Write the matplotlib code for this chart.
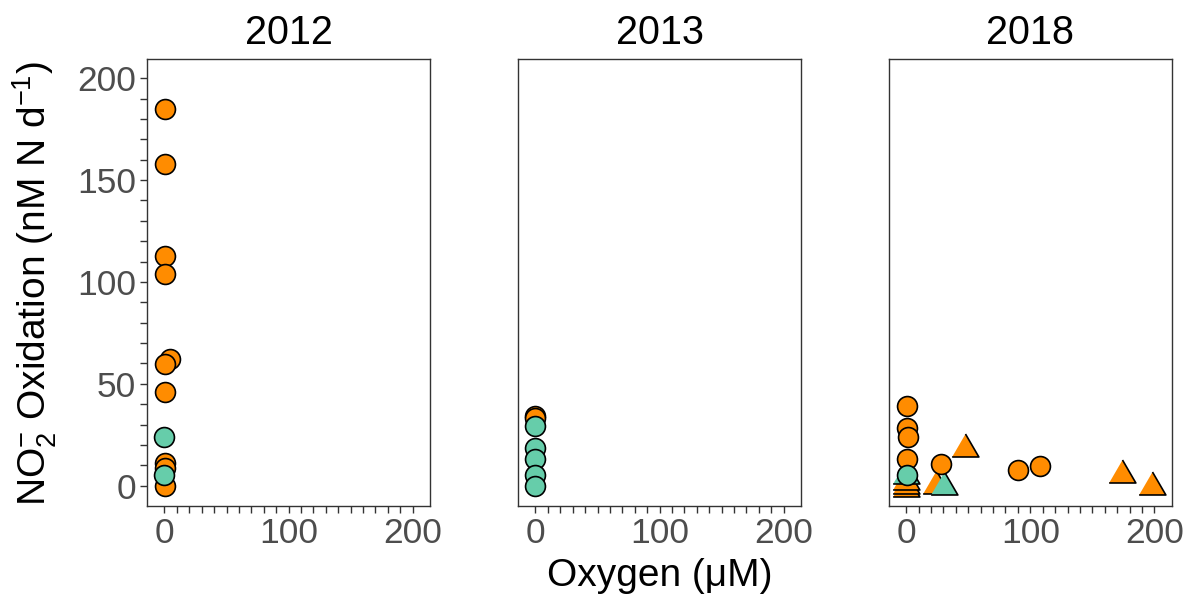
import matplotlib
matplotlib.use("Agg")
import matplotlib.pyplot as plt
from matplotlib.ticker import FixedLocator

FONT = 'Liberation Sans'
plt.rcParams['font.family'] = [FONT, 'DejaVu Sans']
plt.rcParams['mathtext.fontset'] = 'custom'
plt.rcParams['mathtext.rm'] = FONT
plt.rcParams['mathtext.it'] = FONT + ':italic'
plt.rcParams['mathtext.bf'] = FONT + ':bold'

# ---------------- data ----------------
years = ['2012', '2013', '2018']

# orange group, circles
orange_circle_x = {'2012': [0.8, 0.8, 0.5, 0.5, 4.3, 0.5, 0.5, 0.5, 0.5, 0.8],
                   '2013': [0.0, 0.0],
                   '2018': [0.5, 0.5, 1.8, 0.5, 27.7, 89.9, 108.0]}
orange_circle_y = {'2012': [185, 158, 113, 104, 62, 59.6, 46, 11.4, 8.8, 0.0],
                   '2013': [34.3, 33.0],
                   '2018': [39.2, 28.3, 23.9, 13.1, 10.8, 7.5, 9.8]}
# green group, circles
green_circle_x = {'2012': [0.0, 0.0],
                  '2013': [0.0, 0.0, 0.0, 0.0, 0.0],
                  '2018': [0.5]}
green_circle_y = {'2012': [23.7, 5.1],
                  '2013': [29.2, 18.6, 12.9, 5.5, 0.0],
                  '2018': [5.4]}
# orange group, triangles
orange_tri_x = {'2012': [], '2013': [],
                '2018': [0.0, 0.0, 0.0, 24.0, 47.2, 173.9, 198.4]}
orange_tri_y = {'2012': [], '2013': [],
                '2018': [0.5, 2.0, 4.0, 2.0, 20.2, 7.2, 1.2]}
# green group, triangles
green_tri_x = {'2012': [], '2013': [], '2018': [0.0, 30.3]}
green_tri_y = {'2012': [], '2013': [], '2018': [6.5, 1.1]}

x_major = [0, 100, 200]
y_major = [0, 50, 100, 150, 200]

ORANGE = '#FF8C00'
GREEN = '#66CDAA'

# ---------------- figure ----------------
W, H = 1185, 594
fig = plt.figure(figsize=(W / 100, H / 100), dpi=100)

lefts = [147.3, 518.3, 889.0]
right_w = 282.7
top_px, bot_px = 59.3, 505.7

tri_verts = [(-1, -0.86), (1, -0.86), (0, 0.86)]

for i, yr in enumerate(years):
    ax = fig.add_axes([lefts[i] / W, 1 - bot_px / H, right_w / W, (bot_px - top_px) / H])
    ax.set_xlim(-13.8, 213.9)
    ax.set_ylim(-9.8, 209.3)

    ax.scatter(orange_tri_x[yr], orange_tri_y[yr], marker=tri_verts, s=370,
               facecolor=ORANGE, edgecolor='black', linewidth=1.2, zorder=3)
    ax.scatter(green_tri_x[yr], green_tri_y[yr], marker=tri_verts, s=370,
               facecolor=GREEN, edgecolor='black', linewidth=1.2, zorder=4)
    ax.scatter(orange_circle_x[yr], orange_circle_y[yr], marker='o', s=205,
               facecolor=ORANGE, edgecolor='black', linewidth=1.2, zorder=5)
    ax.scatter(green_circle_x[yr], green_circle_y[yr], marker='o', s=205,
               facecolor=GREEN, edgecolor='black', linewidth=1.2, zorder=6)

    ax.xaxis.set_major_locator(FixedLocator(x_major))
    ax.xaxis.set_minor_locator(FixedLocator(list(range(0, 201, 10))))
    ax.yaxis.set_major_locator(FixedLocator(y_major))
    ax.yaxis.set_minor_locator(FixedLocator(list(range(0, 201, 10))))

    ax.tick_params(which='both', direction='out', length=5, width=1.0, color='#333333')
    ax.tick_params(axis='x', which='major', labelsize=25.5, labelcolor='#4D4D4D', pad=3)
    ax.tick_params(axis='y', which='major', labelsize=25.5, labelcolor='#4D4D4D', pad=3)
    if i > 0:
        ax.tick_params(axis='y', which='both', left=False, labelleft=False)

    for sp in ax.spines.values():
        sp.set_color('#333333')
        sp.set_linewidth(1.0)

    fig.text((lefts[i] + right_w / 2) / W, 1 - 44 / H, yr, ha='center', va='baseline',
             fontsize=28.5, color='black')

fig.text(35 / W, 1 - 284 / H, r'NO$_2^{-}$ Oxidation (nM N d$^{-1}$)', rotation=90,
         ha='center', va='center', fontsize=28, color='black')
fig.text(660 / W, 1 - 586 / H, 'Oxygen (μM)', ha='center', va='baseline',
         fontsize=28, color='black')

fig.savefig('out.png', dpi=100, facecolor='white')
